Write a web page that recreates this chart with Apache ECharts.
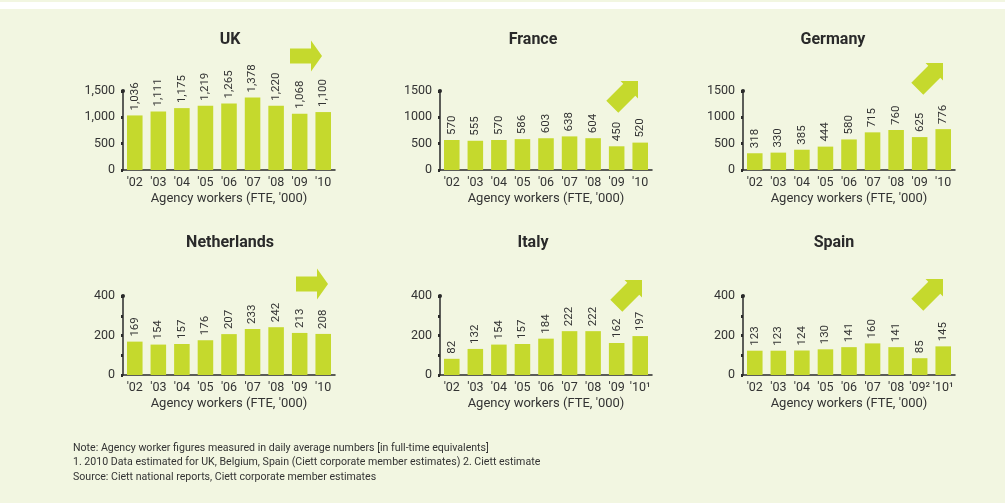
<!DOCTYPE html>
<html>
<head>
<meta charset="utf-8">
<script src="https://cdn.jsdelivr.net/npm/echarts@6/dist/echarts.min.js"></script>
<style>
  html, body { margin: 0; padding: 0; background: #f2f6e1; }
  #chart { width: 1005px; height: 503px; }
</style>
</head>
<body>
<div id="chart"></div>
<script>
// data
var years = ["'02", "'03", "'04", "'05", "'06", "'07", "'08", "'09", "'10"];
var yearsItaly = ["'02", "'03", "'04", "'05", "'06", "'07", "'08", "'09", "'10\u00b9"];
var yearsSpain = ["'02", "'03", "'04", "'05", "'06", "'07", "'08", "'09\u00b2", "'10\u00b9"];
var countries = ['UK', 'France', 'Germany', 'Netherlands', 'Italy', 'Spain'];
var uk = [1036, 1111, 1175, 1219, 1265, 1378, 1220, 1068, 1100];
var france = [570, 555, 570, 586, 603, 638, 604, 450, 520];
var germany = [318, 330, 385, 444, 580, 715, 760, 625, 776];
var netherlands = [169, 154, 157, 176, 207, 233, 242, 213, 208];
var italy = [82, 132, 154, 157, 184, 222, 222, 162, 197];
var spain = [123, 123, 124, 130, 141, 160, 141, 85, 145];
var notes = [
  'Note: Agency worker figures measured in daily average numbers [in full-time equivalents]',
  '1. 2010 Data estimated for UK, Belgium, Spain (Ciett corporate member estimates) 2. Ciett estimate',
  'Source: Ciett national reports, Ciett corporate member estimates'
];

var FONT = 'Roboto';
var TXT = '#333333';
var AXIS = '#2a2a2a';
var BAR = '#c5d92d';

// layout for each panel
var panels = [
  { data: uk, cats: years, left: 123, top: 91, max: 1500, interval: 500, comma: true, titleX: 230, titleY: 40 },
  { data: france, cats: years, left: 440, top: 91, max: 1500, interval: 500, titleX: 533, titleY: 40 },
  { data: germany, cats: years, left: 743, top: 91, max: 1500, interval: 500, titleX: 833, titleY: 40 },
  { data: netherlands, cats: years, left: 123, top: 296, max: 400, interval: 100, titleX: 230, titleY: 243 },
  { data: italy, cats: yearsItaly, left: 440, top: 296, max: 400, interval: 100, titleX: 533, titleY: 243 },
  { data: spain, cats: yearsSpain, left: 743, top: 296, max: 400, interval: 100, titleX: 834, titleY: 243 }
];

function fmt(v, comma) {
  return comma ? v.toLocaleString('en-US') : String(v);
}

var grids = [], xAxes = [], yAxes = [], series = [], graphics = [];

panels.forEach(function (p, i) {
  grids.push({ left: p.left, top: p.top, width: 212, height: 79 });
  xAxes.push({
    gridIndex: i,
    type: 'category',
    data: p.cats,
    axisTick: { show: false },
    axisLine: { lineStyle: { color: AXIS, width: 1.5 } },
    axisLabel: { color: TXT, fontSize: 12.5, fontFamily: FONT, margin: 6, interval: 0 },
    name: "Agency workers (FTE, '000)",
    nameLocation: 'middle',
    nameGap: 22,
    nameTextStyle: { color: TXT, fontSize: 13, fontFamily: FONT }
  });
  yAxes.push({
    gridIndex: i,
    type: 'value',
    min: 0,
    max: p.max,
    interval: p.interval,
    axisLine: {
      show: true,
      lineStyle: { color: AXIS, width: 1.5 },
      symbol: ['none', 'circle'],
      symbolSize: [4, 4]
    },
    axisTick: { show: true, length: 2, lineStyle: { color: AXIS, width: 3 } },
    splitLine: { show: false },
    axisLabel: {
      color: TXT, fontSize: 12.5, fontFamily: FONT, margin: 8,
      formatter: function (v) {
        if (p.max === 400 && v % 200 !== 0) return '';
        return fmt(v, p.comma);
      }
    }
  });
  series.push({
    type: 'bar',
    xAxisIndex: i,
    yAxisIndex: i,
    data: p.data,
    barWidth: '66%',
    itemStyle: { color: BAR },
    label: {
      show: true,
      position: 'top',
      rotate: 90,
      align: 'left',
      verticalAlign: 'middle',
      distance: 5,
      color: TXT,
      fontSize: 11.5,
      fontFamily: FONT,
      formatter: function (d) { return fmt(d.value, p.comma); }
    }
  });
  graphics.push({
    type: 'text',
    x: p.titleX,
    y: p.titleY,
    style: {
      text: countries[i],
      fill: '#2a2a2a',
      font: 'bold 16px ' + FONT,
      textAlign: 'center',
      textVerticalAlign: 'middle'
    }
  });
});

// decorative arrows
function rightArrow(cx, cy) {
  return {
    type: 'polygon',
    shape: { points: [[cx - 16, cy - 7.5], [cx + 5, cy - 7.5], [cx + 5, cy - 15.5], [cx + 16, cy], [cx + 5, cy + 15.5], [cx + 5, cy + 7.5], [cx - 16, cy + 7.5]] },
    style: { fill: BAR }
  };
}

function clip(pts, inside, cross) {
  var out = [];
  for (var k = 0; k < pts.length; k++) {
    var a = pts[k], b = pts[(k + 1) % pts.length];
    var ia = inside(a), ib = inside(b);
    if (ia) out.push(a);
    if (ia !== ib) out.push(cross(a, b));
  }
  return out;
}

// diagonal arrow cut off by its box (right edge, top edge)
function diagArrow(right, top) {
  var tipX = right + 4, tipY = top - 4;
  var local = [[-42, -8.5], [-18, -8.5], [-18, -20], [0, 0], [-18, 20], [-18, 8.5], [-42, 8.5]];
  var c = Math.SQRT1_2;
  var pts = local.map(function (q) {
    return [tipX + q[0] * c + q[1] * c, tipY - q[0] * c + q[1] * c];
  });
  pts = clip(pts, function (q) { return q[0] <= right; }, function (a, b) {
    var t = (right - a[0]) / (b[0] - a[0]);
    return [right, a[1] + t * (b[1] - a[1])];
  });
  pts = clip(pts, function (q) { return q[1] >= top; }, function (a, b) {
    var t = (top - a[1]) / (b[1] - a[1]);
    return [a[0] + t * (b[0] - a[0]), top];
  });
  return { type: 'polygon', shape: { points: pts }, style: { fill: BAR } };
}

graphics.push(rightArrow(306, 56));
graphics.push(rightArrow(312, 284));
graphics.push(diagArrow(638, 81));
graphics.push(diagArrow(943, 63));
graphics.push(diagArrow(642, 280));
graphics.push(diagArrow(943, 279));

// white band at top
graphics.push({ type: 'rect', shape: { x: 0, y: 2, width: 1005, height: 7 }, style: { fill: '#ffffff' } });

notes.forEach(function (t, k) {
  graphics.push({
    type: 'text',
    x: 73,
    y: 448 + k * 14.5,
    style: { text: t, fill: TXT, font: '10.6px ' + FONT, textVerticalAlign: 'middle' }
  });
});

var chart = echarts.init(document.getElementById('chart'));
chart.setOption({
  backgroundColor: '#f2f6e1',
  animation: false,
  grid: grids,
  xAxis: xAxes,
  yAxis: yAxes,
  series: series,
  graphic: graphics
});
</script>
</body>
</html>
